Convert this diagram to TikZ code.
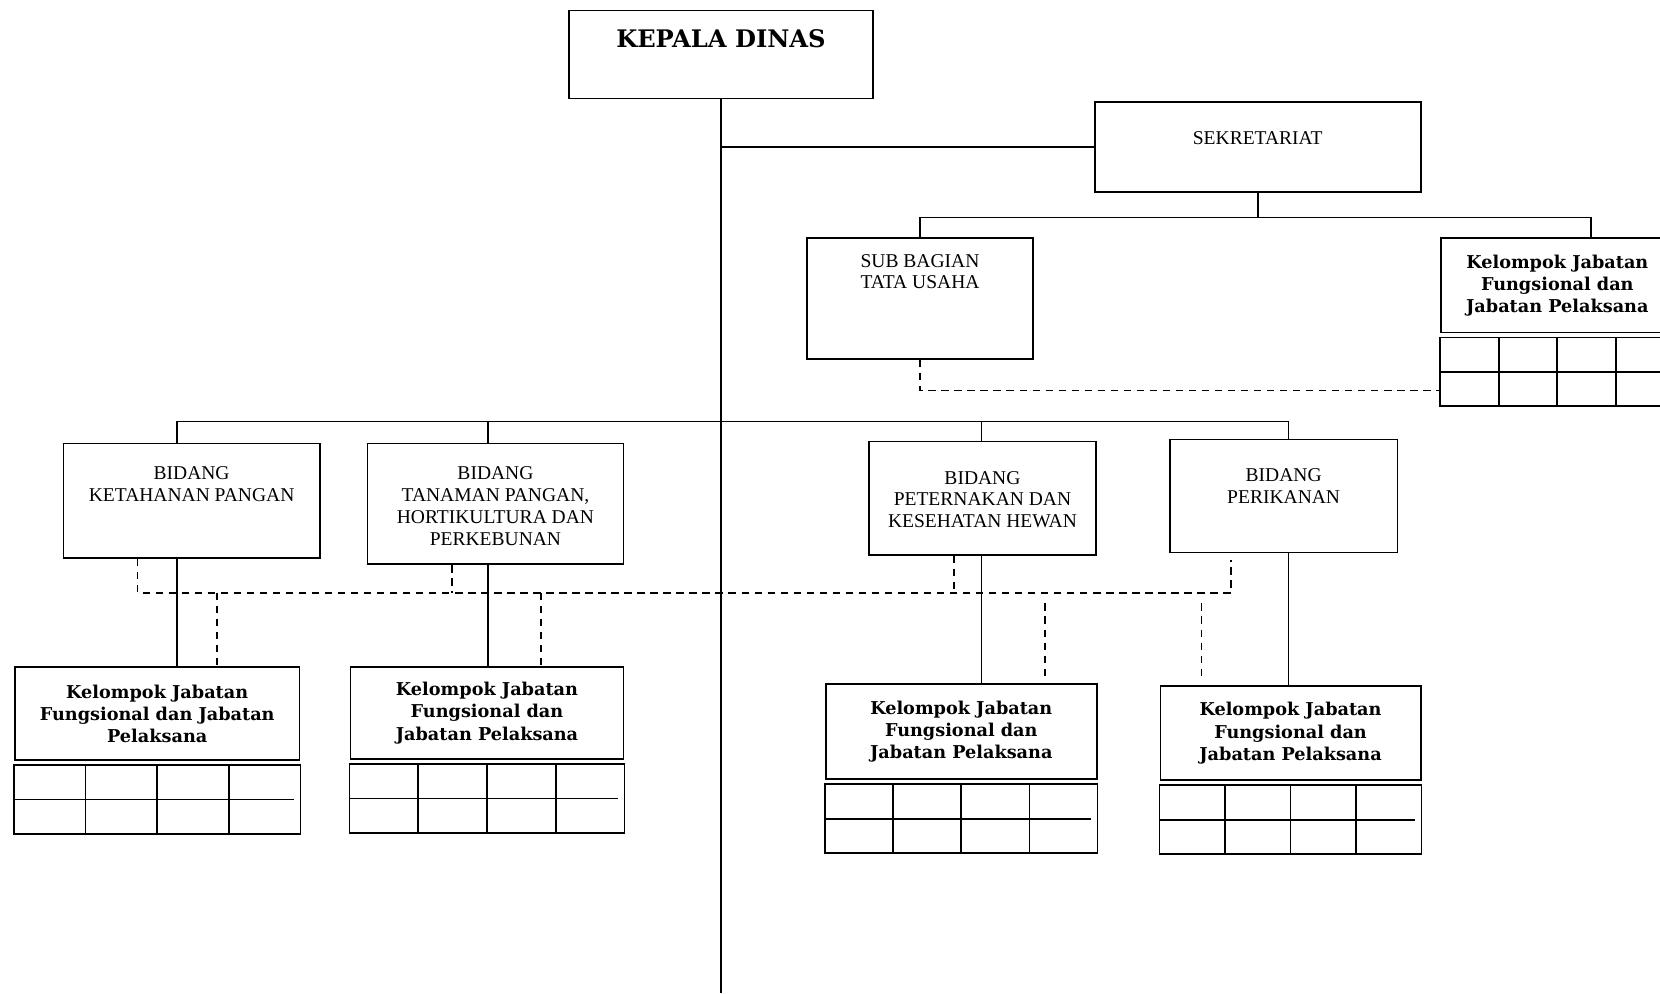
\documentclass[tikz,border=0pt]{standalone}
\usepackage{fontspec}
\setmainfont{Liberation Serif}
\newfontfamily\tebal{DejaVu Serif}
\usetikzlibrary{positioning, calc}

% tabel kecil di bawah kotak kelompok jabatan
\newcommand{\tabel}[1]{
  \coordinate (#1a) at ($(#1.south west)+(0,4)$);
  \coordinate (#1b) at ($(#1.south east)+(0,69)$);
  \draw (#1a) rectangle (#1b);
  \foreach \i in {1,2,3}
    \draw ($(#1a)!\i/4!(#1a -| #1b)$) -- ($(#1a |- #1b)!\i/4!(#1b)$);
  \draw ($(#1a)!.5!(#1a |- #1b)$) -- ($(#1a -| #1b)!.5!(#1b)+(-6,0)$);
}

\begin{document}
\begin{tikzpicture}[x=0.02cm, y=-0.02cm, line width=0.9pt,
    unit/.style={draw, rectangle, inner sep=0pt},
    judul/.style={anchor=north, align=center, inner sep=0pt, font=\fontsize{10.5}{11.7}\selectfont},
    kelompok/.style={unit, align=center, font=\fontsize{9.5}{11.9}\selectfont\tebal\bfseries},
    putus/.style={dash pattern=on 4pt off 3pt}]
    \useasboundingbox (0,0) rectangle (1568,938);
    % Kotak atas
    \node[unit, minimum width=5.74cm, minimum height=1.66cm] (kd) at (681,51.5) {};
    \node[judul, font=\fontsize{13}{15}\selectfont\tebal\bfseries] at ($(kd.north)+(0,18)$) {KEPALA DINAS};
    \node[unit, minimum width=6.16cm, minimum height=1.70cm] (sek) at (1188,139) {};
    \node[judul] at ($(sek.north)+(0,28)$) {SEKRETARIAT};
    \node[unit, minimum width=4.28cm, minimum height=2.28cm] (sub) at (869,282) {};
    \node[judul] at ($(sub.north)+(0,15)$) {SUB BAGIAN\\TATA USAHA};
    \node[kelompok, minimum width=4.40cm, minimum height=1.78cm] (k5) at (1471,269.5) {Kelompok Jabatan\\Fungsional dan\\Jabatan Pelaksana};
    % Bidang
    \node[unit, minimum width=4.84cm, minimum height=2.16cm] (b1) at (181,473) {};
    \node[judul] at ($(b1.north)+(0,22)$) {BIDANG\\KETAHANAN PANGAN};
    \node[unit, minimum width=4.84cm, minimum height=2.28cm] (b2) at (468,476) {};
    \node[judul] at ($(b2.north)+(0,22)$) {BIDANG\\TANAMAN PANGAN,\\HORTIKULTURA DAN\\PERKEBUNAN};
    \node[unit, minimum width=4.28cm, minimum height=2.14cm] (b3) at (928,470.5) {};
    \node[judul] at ($(b3.north)+(0,28)$) {BIDANG\\PETERNAKAN DAN\\KESEHATAN HEWAN};
    \node[unit, minimum width=4.30cm, minimum height=2.14cm] (b4) at (1212.5,468.5) {};
    \node[judul] at ($(b4.north)+(0,28)$) {BIDANG\\PERIKANAN};
    % Kelompok jabatan
    \node[kelompok, minimum width=5.38cm, minimum height=1.76cm] (k1) at (148.5,674) {Kelompok Jabatan\\Fungsional dan Jabatan\\Pelaksana};
    \node[kelompok, minimum width=5.16cm, minimum height=1.74cm] (k2) at (460,673.5) {Kelompok Jabatan\\Fungsional dan\\Jabatan Pelaksana};
    \node[kelompok, minimum width=5.12cm, minimum height=1.80cm] (k3) at (908,691) {Kelompok Jabatan\\Fungsional dan\\Jabatan Pelaksana};
    \node[kelompok, minimum width=4.92cm, minimum height=1.78cm] (k4) at (1219,692.5) {Kelompok Jabatan\\Fungsional dan\\Jabatan Pelaksana};
    \foreach \k in {k1,k2,k3,k4,k5}
      \tabel{\k}
    % Garis komando
    \coordinate (ujung) at (681,938);
    \draw (kd.south) -- (kd.south |- ujung);
    \draw (sek.west) -- (sek.west -| kd.south);
    \draw (sek.south) -- ++(0,23) coordinate (cabang);
    \draw (sub.north) |- (cabang) -| ($(k5.north)+(32,0)$);
    \coordinate (t1) at (167,398);
    \coordinate (t2) at (461,398);
    \coordinate (t3) at (927,398);
    \coordinate (t4) at (1217,398);
    \draw (t1) -- (t4);
    \foreach \t/\b/\k in {t1/b1/k1, t2/b2/k2, t3/b3/k3, t4/b4/k4}{
      \draw (\t) -- (\t |- \b.north);
      \draw (\t |- \b.south) -- (\t |- \k.north);
    }
    % Garis koordinasi
    \draw[putus] (sub.south) |- ($(k5a)+(0,50)$);
    \coordinate (p1) at (130,560);
    \coordinate (p2) at (427,560);
    \coordinate (p3) at (901,560);
    \coordinate (p4) at (1163,560);
    \draw[putus] (p1 |- b1.south) -- (p1) -- (p4) -- ($(p4 |- b4.south)+(0,6)$);
    \draw[putus] (p2 |- b2.south) -- (p2);
    \draw[putus] (p3 |- b3.south) -- (p3);
    \coordinate (q1) at (205,560);
    \coordinate (q2) at (511,560);
    \coordinate (q3) at (987,570);
    \coordinate (q4) at (1135,570);
    \draw[putus] (q1) -- (q1 |- k1.north);
    \draw[putus] (q2) -- (q2 |- k2.north);
    \draw[putus] (q3) -- ($(q3 |- k3.north)+(0,-6)$);
    \draw[putus] (q4) -- ($(q4 |- k4.north)+(0,-6)$);
\end{tikzpicture}
\end{document}
